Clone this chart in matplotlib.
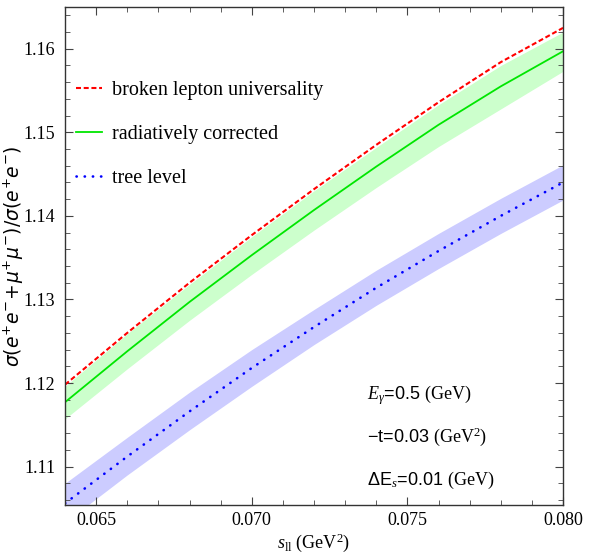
import matplotlib
matplotlib.use("Agg")
import matplotlib.pyplot as plt
from matplotlib.ticker import MultipleLocator

plt.rcParams['font.family'] = ['Liberation Serif', 'DejaVu Serif']
plt.rcParams['mathtext.fontset'] = 'custom'
plt.rcParams['mathtext.rm'] = 'Liberation Serif'
plt.rcParams['mathtext.it'] = 'Liberation Serif:italic'
plt.rcParams['mathtext.sf'] = 'Liberation Sans'

# s_ll values (GeV^2)
s_ll = [0.064, 0.066, 0.068, 0.070, 0.072, 0.074, 0.076, 0.078, 0.080]

# ratio curves
broken_lu = [1.1198, 1.1260, 1.1320, 1.1377, 1.1432, 1.1485, 1.1536, 1.1584, 1.1625]
rad_corr = [1.1177, 1.1238, 1.1297, 1.1353, 1.1407, 1.1459, 1.1509, 1.1555, 1.1597]
rad_low = [1.1157, 1.1217, 1.1275, 1.1330, 1.1383, 1.1434, 1.1483, 1.1528, 1.1573]
rad_high = [1.1196, 1.1259, 1.1318, 1.1375, 1.1430, 1.1482, 1.1533, 1.1580, 1.1620]
tree = [1.1056, 1.1112, 1.1166, 1.1218, 1.1267, 1.1314, 1.1358, 1.1400, 1.1440]
tree_low = [1.1033, 1.1090, 1.1144, 1.1196, 1.1246, 1.1293, 1.1337, 1.1379, 1.1419]
tree_high = [1.1080, 1.1135, 1.1189, 1.1240, 1.1288, 1.1335, 1.1379, 1.1421, 1.1461]

fig = plt.figure(figsize=(5.89, 5.55), dpi=100)
ax = fig.add_axes([0.1104, 0.0901, 0.8455, 0.8973])

# bands first
ax.fill_between(s_ll, rad_low, rad_high, color="#ccffcc", lw=0)
ax.fill_between(s_ll, tree_low, tree_high, color="#ccccff", lw=0)

ax.plot(s_ll, broken_lu, color="#ff0000", lw=1.5, linestyle=(0, (2.4, 1.3)),
        label="broken lepton universality")
ax.plot(s_ll, rad_corr, color="#00e600", lw=1.3, label="radiatively corrected")
ax.plot(s_ll, tree, color="#0000ff", lw=1.9, linestyle=(0, (0.1, 3.0)),
        dash_capstyle="round", label="tree level")

ax.set_xlim(0.064, 0.080)
ax.set_ylim(1.1054, 1.1650)

ax.xaxis.set_minor_locator(MultipleLocator(0.001))
ax.yaxis.set_minor_locator(MultipleLocator(0.002))
ax.set_xticks([0.065, 0.070, 0.075, 0.080])
ax.set_xticklabels(["0.065", "0.070", "0.075", "0.080"])
ax.set_yticks([1.11, 1.12, 1.13, 1.14, 1.15, 1.16])
ax.set_yticklabels(["1.11", "1.12", "1.13", "1.14", "1.15", "1.16"])
ax.tick_params(which="both", direction="in", top=True, right=True,
               labelsize=13, color="#444444")
ax.tick_params(axis="y", pad=7)
ax.tick_params(axis="x", pad=5)
ax.tick_params(which="major", length=6, width=0.8)
ax.tick_params(which="minor", length=3.5, width=0.6)
for sp in ax.spines.values():
    sp.set_linewidth(1.0)
    sp.set_color("#333333")

ax.set_xlabel(r"$s_{\mathrm{ll}}$ (GeV$^2$)", fontsize=13, labelpad=2)
ax.set_ylabel(r"$\sigma(e^{+}e^{-}\!+\!\mu^{+}\mu^{-})/\sigma(e^{+}e^{-})$",
              fontsize=13.5, math_fontfamily="dejavusans")
ax.yaxis.set_label_coords(-0.078, 0.5)

ax.legend(loc="upper left", bbox_to_anchor=(-0.014, 0.887), frameon=False,
          fontsize=14.5, handlelength=1.3, handletextpad=0.5, labelspacing=1.22,
          borderaxespad=0.5)

sans = ['Liberation Sans', 'DejaVu Sans']
ax.text(0.607, 0.221, r"$E_{\gamma}$=0.5 $\mathrm{(GeV)}$", transform=ax.transAxes,
        fontsize=13, va="center", family=sans)
ax.text(0.607, 0.137, "\u2212t=0.03 " + r"$\mathrm{(GeV^{2})}$", transform=ax.transAxes,
        fontsize=13, va="center", family=sans)
ax.text(0.607, 0.050, "\u0394E" + r"$_{s}$=0.01 $\mathrm{(GeV)}$", transform=ax.transAxes,
        fontsize=13, va="center", family=sans)

fig.savefig("out.png", dpi=100)
